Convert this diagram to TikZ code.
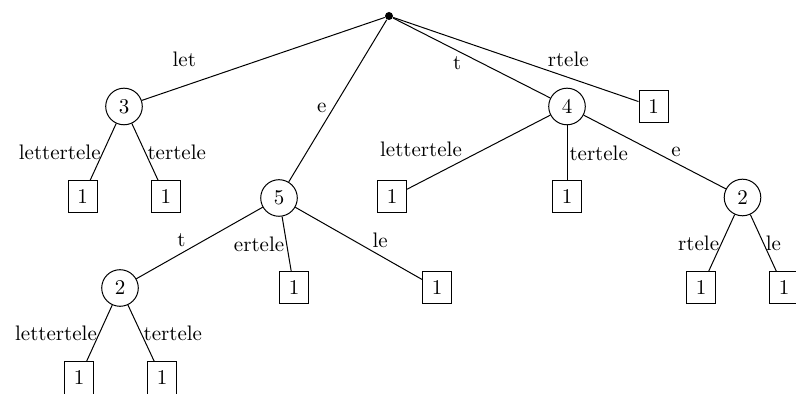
\documentclass[tikz,border=0pt]{standalone}
\usepackage{tikz}

\begin{document}
\begin{tikzpicture}[
  x=0.5pt, y=-0.5pt, line width=0.5pt,
  font=\fontsize{10.5}{12}\selectfont,
  dot/.style={circle, fill, inner sep=0pt, minimum size=4pt},
  count/.style={circle, draw, minimum size=18.3pt, inner sep=0pt},
  leaf/.style={rectangle, draw, minimum width=14.5pt, minimum height=16pt, inner sep=0pt},
  lab/.style={inner sep=1pt}
]
  \useasboundingbox (0,0) rectangle (796,394);

  % Root and inner counts
  \node[dot] (r) at (389,16) {};
  \node[count] (n3) at (124,106.5) {3};
  \node[count] (n5) at (279,198) {5};
  \node[count] (n4) at (567,106.5) {4};
  \node[count] (n2r) at (742.5,197.5) {2};
  \node[count] (n2l) at (120,288) {2};

  % Leaves
  \node[leaf] (l0) at (653.5,106.7) {1};
  \node[leaf] (l1) at (82.5,197) {1};
  \node[leaf] (l2) at (165.8,197) {1};
  \node[leaf] (l3) at (392,197) {1};
  \node[leaf] (l4) at (567,197) {1};
  \node[leaf] (l5) at (701,288) {1};
  \node[leaf] (l6) at (784,288) {1};
  \node[leaf] (l7) at (294,288) {1};
  \node[leaf] (l8) at (437,288) {1};
  \node[leaf] (l9) at (79,378) {1};
  \node[leaf] (l10) at (162,378) {1};

  % Root edges
  \draw (r) -- node[lab, pos=.825, above=8.5pt] {let} (n3);
  \draw (r) -- node[lab, pos=.59, anchor=south east] {e} (n5);
  \draw (r) -- node[lab, pos=.45, anchor=north east] {t} (n4);
  \draw (r) -- node[lab, pos=.62, anchor=south west] {rtele} (l0);

  % Under 3
  \draw (n3) -- node[lab, pos=.5, anchor=east] {lettertele} (l1);
  \draw (n3) -- node[lab, pos=.5, anchor=west] {tertele} (l2);

  % Under 4
  \draw (n4) -- node[lab, pos=.6, anchor=south east] {lettertele} (l3);
  \draw (n4) -- node[lab, pos=.5, anchor=west] {tertele} (l4);
  \draw (n4) -- node[lab, pos=.6, anchor=south west] {e} (n2r);

  % Under right 2
  \draw (n2r) -- node[lab, pos=.5, anchor=east] {rtele} (l5);
  \draw (n2r) -- node[lab, pos=.5, anchor=west] {le} (l6);

  % Under 5
  \draw (n5) -- node[lab, pos=.59, anchor=south east] {t} (n2l);
  \draw (n5) -- node[lab, pos=.5, anchor=east] {ertele} (l7);
  \draw (n5) -- node[lab, pos=.59, anchor=south west] {le} (l8);

  % Under left 2
  \draw (n2l) -- node[lab, pos=.5, anchor=east] {lettertele} (l9);
  \draw (n2l) -- node[lab, pos=.5, anchor=west] {tertele} (l10);
\end{tikzpicture}
\end{document}
